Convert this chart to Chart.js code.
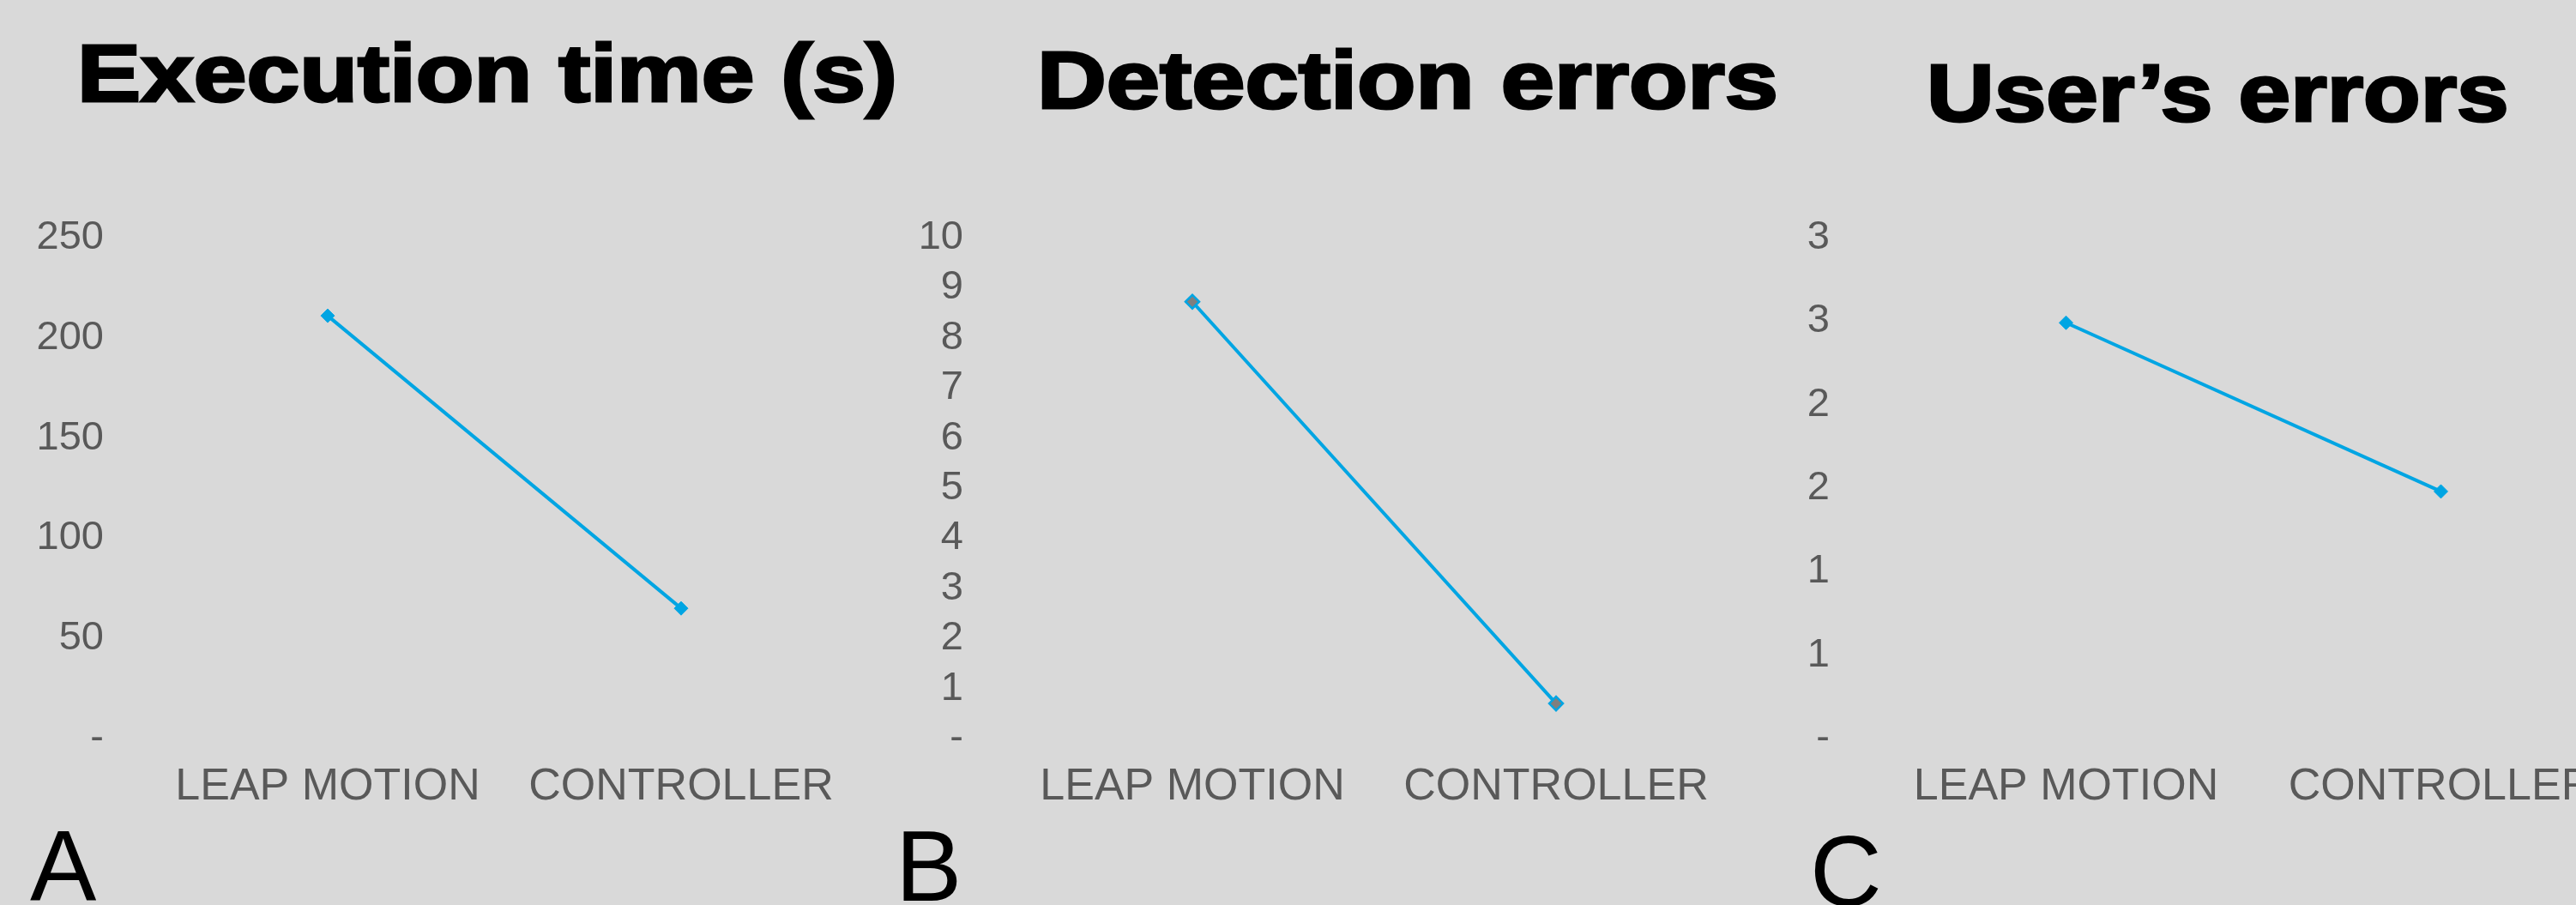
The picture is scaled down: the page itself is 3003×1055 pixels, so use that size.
<!DOCTYPE html>
<html><head><meta charset="utf-8">
<script src="https://cdn.jsdelivr.net/npm/chart.js@4.4.1/dist/chart.umd.min.js"></script>
<style>
html,body{margin:0;padding:0;background:#d9d9d9;overflow:hidden;width:3003px;height:1055px;position:relative;}
canvas{position:absolute;top:0;}
.title{position:absolute;font-family:"Liberation Sans",Arial,sans-serif;font-weight:bold;font-size:95px;line-height:1;white-space:nowrap;color:#000;-webkit-text-stroke:3px #000;transform-origin:0 0;}
.letter{position:absolute;font-family:"Liberation Sans",Arial,sans-serif;font-size:116px;line-height:1;color:#000;white-space:nowrap;}
</style></head><body>
<canvas id="cA" width="1010" height="1055" style="left:0px;width:1010px;height:1055px"></canvas>
<canvas id="cB" width="1030" height="1055" style="left:1010px;width:1030px;height:1055px"></canvas>
<canvas id="cC" width="1040" height="1055" style="left:2040px;width:1040px;height:1055px"></canvas>
<div class="title" id="tA">Execution time (s)</div>
<div class="title" id="tB">Detection errors</div>
<div class="title" id="tC">User’s errors</div>
<div class="letter" style="left:35px;top:952px">A</div>
<div class="letter" style="left:1044px;top:952px">B</div>
<div class="letter" style="left:2110px;top:958px">C</div>
<script>
// ---- data ----
const categories = ['LEAP MOTION', 'CONTROLLER'];
const executionTime = [211, 65];
const detectionErrors = [8.72, 0.70];
const userErrors = [2.49, 1.48];
const executionTickLabels = ['-', '50', '100', '150', '200', '250'];
const detectionTickLabels = ['-', '1', '2', '3', '4', '5', '6', '7', '8', '9', '10'];
const userTickLabels = ['-', '1', '1', '2', '2', '3', '3'];
const executionAxis = [0, 250, 50];
const detectionAxis = [0, 10, 1];
const userAxis = [0, 3, 0.5];

const BLUE = '#00a5e3';
const TICK_COLOR = '#595959';
const FONT = '"Liberation Sans", Arial, sans-serif';

function makeChart(id, values, axis, tickLabels, o) {
  return new Chart(document.getElementById(id), {
    type: 'line',
    data: {
      labels: categories,
      datasets: [{
        data: values,
        borderColor: BLUE,
        borderWidth: 4,
        pointStyle: 'rectRot',
        pointRadius: 8,
        pointBackgroundColor: o.pointFill,
        pointBorderColor: BLUE,
        pointBorderWidth: o.pointBorder,
        tension: 0,
        fill: false
      }]
    },
    options: {
      responsive: false,
      devicePixelRatio: 1,
      animation: false,
      layout: { padding: { top: 277, right: o.padRight, bottom: 44, left: 0 } },
      plugins: { legend: { display: false }, tooltip: { enabled: false }, title: { display: false } },
      scales: {
        x: {
          type: 'category',
          offset: true,
          grid: { display: false, drawTicks: false },
          border: { display: false },
          ticks: {
            color: TICK_COLOR,
            font: { family: FONT, size: 52 },
            padding: 25,
            maxRotation: 0,
            minRotation: 0,
            autoSkip: false
          },
          afterFit: s => { s.height = 150; }
        },
        y: {
          min: axis[0], max: axis[1],
          grid: { display: false, drawTicks: false },
          border: { display: false },
          ticks: {
            stepSize: axis[2],
            autoSkip: false,
            color: TICK_COLOR,
            font: { family: FONT, size: 47 },
            padding: o.tickPad,
            callback: (v, i) => tickLabels[i]
          },
          afterFit: s => { s.width = o.yWidth; }
        }
      }
    }
  });
}

makeChart('cA', executionTime, executionAxis, executionTickLabels,
  { pointFill: BLUE, pointBorder: 1, padRight: 10, yWidth: 176, tickPad: 55 });
makeChart('cB', detectionErrors, detectionAxis, detectionTickLabels,
  { pointFill: '#7f7f7f', pointBorder: 2.5, padRight: 14, yWidth: 168, tickPad: 55 });
makeChart('cC', userErrors, userAxis, userTickLabels,
  { pointFill: BLUE, pointBorder: 1, padRight: 16, yWidth: 150, tickPad: 57 });

// ---- title placement (ink extents / baselines) ----
function placeTitle(id, left, right, baseline) {
  const el = document.getElementById(id);
  const ctx = document.createElement('canvas').getContext('2d');
  ctx.font = 'bold 95px ' + FONT;
  const m = ctx.measureText(el.textContent);
  const ink = m.actualBoundingBoxLeft + m.actualBoundingBoxRight + 3;
  const s = (right - left) / ink;
  el.style.transform = 'scaleX(' + s + ')';
  el.style.left = (left + s * (m.actualBoundingBoxLeft + 1.5)) + 'px';
  el.style.top = (baseline - 0.8465 * 95) + 'px';
}
placeTitle('tA', 95, 1042, 118);
placeTitle('tB', 1214, 2070, 126);
placeTitle('tC', 2250, 2922, 141);
</script>
</body></html>
